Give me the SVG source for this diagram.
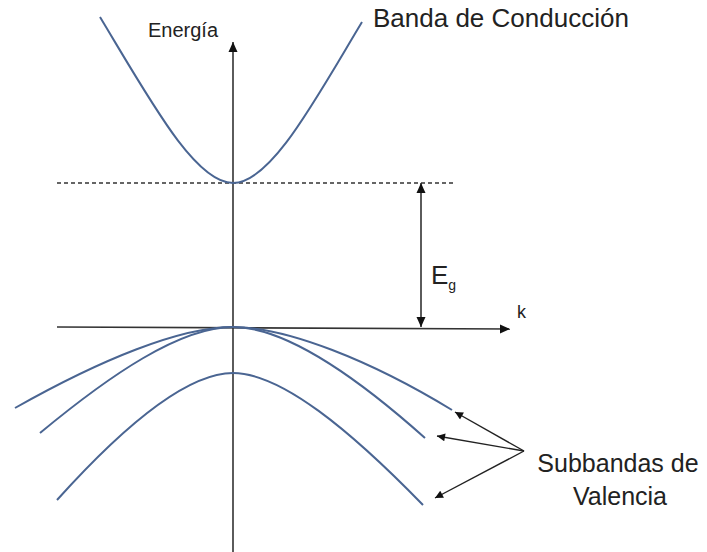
<svg xmlns="http://www.w3.org/2000/svg" width="707" height="552" viewBox="0 0 707 552">
<defs>
<marker id="ah" viewBox="0 0 10 10" refX="10" refY="5" markerWidth="10" markerHeight="10" markerUnits="userSpaceOnUse" orient="auto-start-reverse">
<path d="M0,0.5 L10,5 L0,9.5 Z" fill="#111"/>
</marker>
<marker id="ahs" viewBox="0 0 10 10" refX="10" refY="5" markerWidth="9" markerHeight="8" markerUnits="userSpaceOnUse" orient="auto">
<path d="M0,0 L10,5 L0,10 Z" fill="#111"/>
</marker>
</defs>
<style>
.ax{stroke:#333;stroke-width:1.6;fill:none}
.band{stroke:#4a6592;stroke-width:2;fill:none}
.ptr{stroke:#222;stroke-width:1.4;fill:none}
.t{font-family:"Liberation Sans",Arial,sans-serif;fill:#222}
</style>
<rect width="707" height="552" fill="#fff"/>
<g id="axes">
<line class="ax" x1="233" y1="552" x2="233" y2="42" marker-end="url(#ah)"/>
<line class="ax" x1="57" y1="327" x2="510" y2="329" marker-end="url(#ah)"/>
<line x1="57" y1="183" x2="455" y2="183" stroke="#333" stroke-width="1.6" stroke-dasharray="4 3"/>
<line class="ax" x1="421" y1="183" x2="421" y2="327" marker-start="url(#ah)" marker-end="url(#ah)"/>
</g>
<g id="conduction-band">
<path class="band" d="M100,17 C150,100 195,183 233,183 C271,183 315,100 362,22"/>
</g>
<g id="valence-bands">
<path class="band" d="M15,408 C100,360 180,327 233,327 C286,327 370,360 452,410"/>
<path class="band" d="M40,433 C110,375 180,327 233,327 C286,327 360,380 425,438"/>
<path class="band" d="M57,500 C120,430 185,373 233,373 C281,373 350,430 423,505"/>
</g>
<g id="connectors">
<line class="ptr" x1="524" y1="451" x2="455" y2="412" marker-end="url(#ahs)"/>
<line class="ptr" x1="524" y1="451" x2="437" y2="436" marker-end="url(#ahs)"/>
<line class="ptr" x1="524" y1="451" x2="435" y2="498" marker-end="url(#ahs)"/>
</g>
<g id="label-energia"><text class="t" x="148" y="37" font-size="20">Energía</text></g>
<g id="label-conduccion"><text class="t" x="373" y="27" font-size="26">Banda de Conducción</text></g>
<g id="label-eg"><text class="t" x="431" y="284" font-size="26">E<tspan font-size="14" dy="6">g</tspan></text></g>
<g id="label-k"><text class="t" x="517" y="318" font-size="18">k</text></g>
<g id="label-valencia"><text class="t" x="618" y="472" font-size="25" text-anchor="middle">Subbandas de</text><text class="t" x="620" y="505" font-size="25" text-anchor="middle">Valencia</text></g>
</svg>
